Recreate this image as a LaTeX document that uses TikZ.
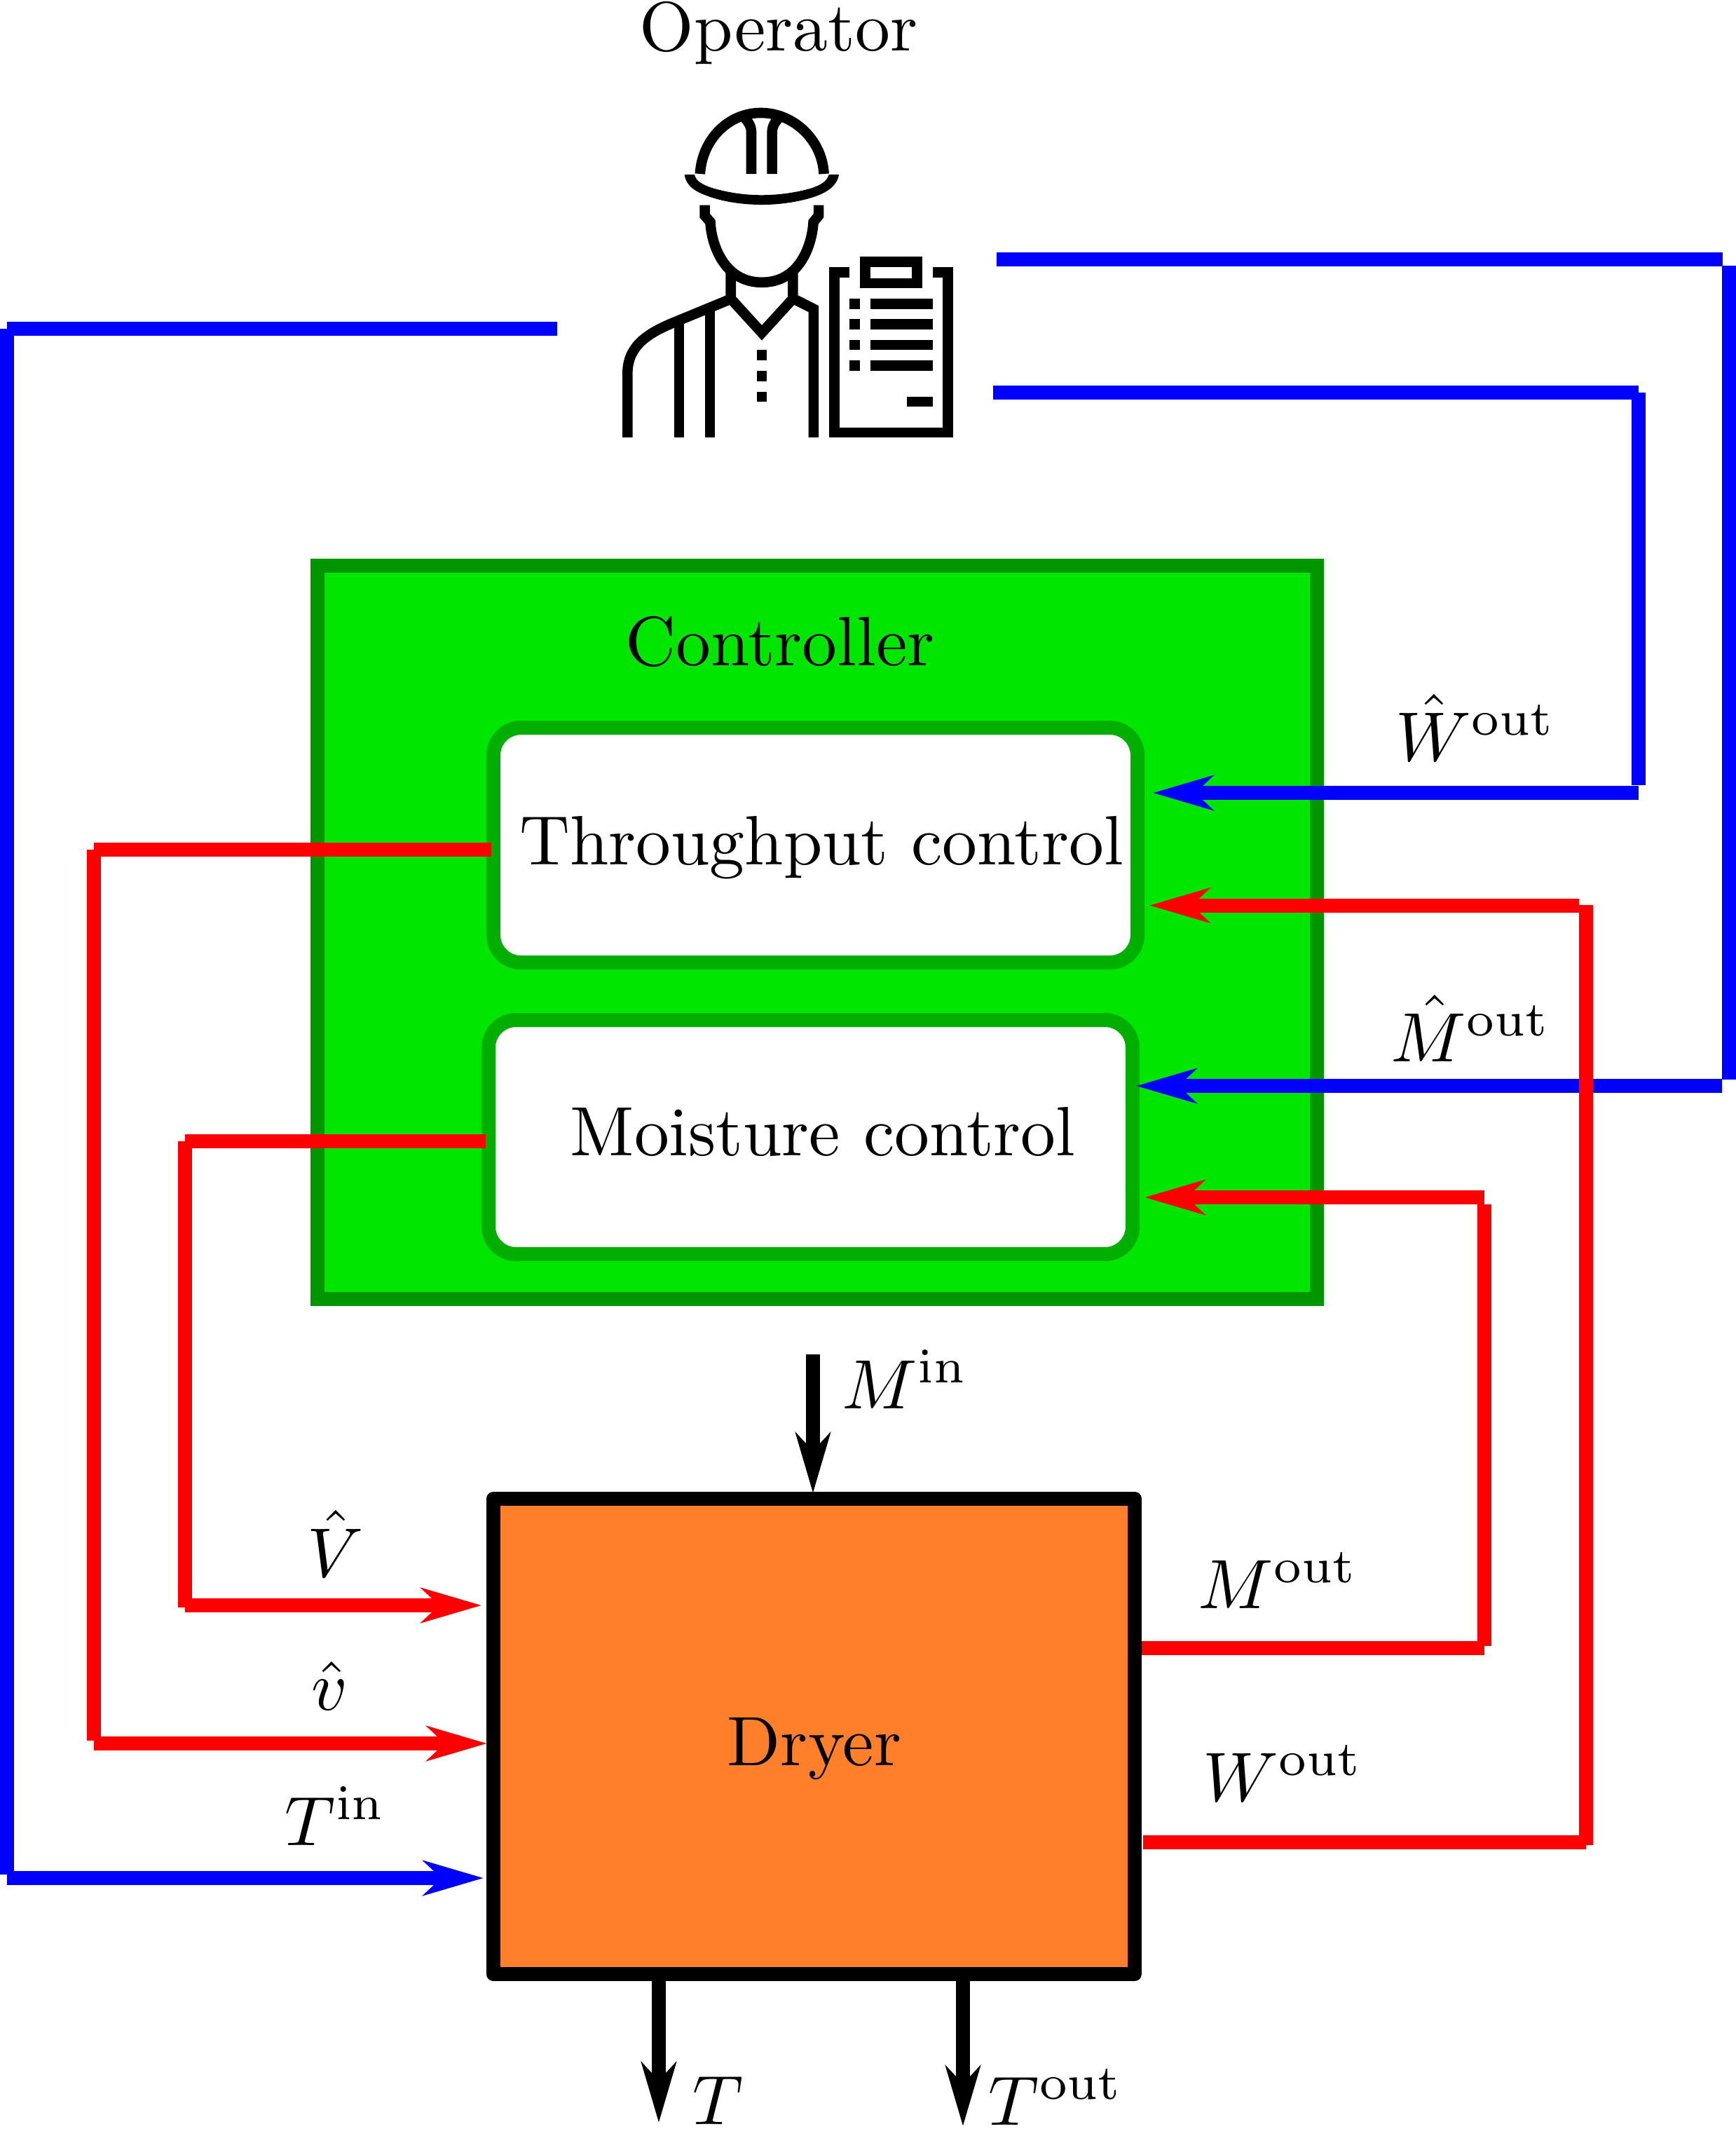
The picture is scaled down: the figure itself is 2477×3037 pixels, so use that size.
\documentclass[tikz,border=0pt]{standalone}
\usetikzlibrary{arrows.meta}
\definecolor{CtrlFill}{HTML}{00E600}
\definecolor{CtrlEdge}{HTML}{009600}
\definecolor{LoopEdge}{HTML}{00AF00}
\definecolor{DryerFill}{HTML}{FF7F2A}
\definecolor{WireBlue}{HTML}{0000FF}
\definecolor{WireRed}{HTML}{FF0000}
\tikzset{
  wire/.style={line width=2.03pt},
  wireblue/.style={wire,WireBlue},
  wirered/.style={wire,WireRed},
  flow/.style={wire,-{Stealth[length=8.7pt,width=5pt,inset=2.6pt]}},
  flowblue/.style={flow,WireBlue},
  flowred/.style={flow,WireRed},
  ctrlbox/.style={draw=CtrlEdge,line width=2.03pt,fill=CtrlFill,inner sep=0pt,
                  minimum width=144.6pt,minimum height=106.06pt},
  loopbox/.style={draw=LoopEdge,line width=2.03pt,fill=white,rounded corners=4pt,inner sep=0pt,
                  minimum width=93.19pt},
  dryerbox/.style={draw=black,line width=2.03pt,fill=DryerFill,line join=round,inner sep=0pt,
                   minimum width=92.78pt,minimum height=68.75pt},
  caption/.style={anchor=base,inner sep=0pt,transform shape,scale=1.01},
  sig/.style={anchor=base west,inner sep=0pt,transform shape,scale=1.01},
  icon/.style={line width=1.48pt},
}
\begin{document}
\begin{tikzpicture}[x=.1014pt,y=-.1014pt]
  \useasboundingbox (0,0) rectangle (2477,3037);

  \node[ctrlbox] (ctrl) at (1166,1330) {};
  \node[loopbox,minimum height=33.97pt] (tctrl) at (1163.5,1205.5) {};
  \node[loopbox,minimum height=33.87pt] (mctrl) at (1156.5,1622) {};
  \node[dryerbox] (dryer) at (1161.5,2477) {};

  \node[caption] (oplab) at (1111,72) {Operator};
  \node[caption] (ctrllab) at (1113,949) {Controller};
  \node[caption] (tlab) at (1172,1233) {Throughput control};
  \node[caption] (mlab) at (1174,1648) {Moisture control};
  \node[caption] (dlab) at (1162,2518) {Dryer};

  % operator
  \begin{scope}[shift={(850,120)},xscale=.357,yscale=.344]
    \draw[icon] (417,372) .. controls (425,230) and (530,119) .. (660,119)
      .. controls (790,119) and (905,230) .. (912,372);
    \draw[icon] (622,372) -- (622,200) .. controls (622,170) and (605,150) .. (590,135);
    \draw[icon] (705,372) -- (705,200) .. controls (705,170) and (722,150) .. (737,135);
    \fill (355,375) -- (395,375) .. controls (400,400) and (420,415) .. (470,432)
      .. controls (540,452) and (600,460) .. (664,460)
      .. controls (730,460) and (800,450) .. (860,432)
      .. controls (905,417) and (925,400) .. (932,375) -- (972,375)
      .. controls (965,420) and (930,445) .. (880,465)
      .. controls (810,490) and (730,500) .. (664,500)
      .. controls (590,500) and (510,488) .. (450,465)
      .. controls (395,445) and (360,420) .. (355,375) -- cycle;
    \draw[icon] (436,502) -- (436,545) -- (458,572) .. controls (462,660) and (510,822) .. (664,822)
      .. controls (820,822) and (865,660) .. (870,572) -- (891,545) -- (891,502);
    \draw[icon] (540,770) -- (540,890) -- (664,1031) -- (788,890) -- (788,770);
    \draw[icon] (800,895) -- (871,932) -- (871,1465);
    \draw[icon] (535,893) -- (320,985) .. controls (200,1035) and (127,1090) .. (127,1200) -- (127,1465);
    \draw[icon] (333,975) -- (333,1465);
    \draw[icon] (457,930) -- (457,1465);
    \foreach \y in {1103,1189,1275}
      \fill (644,\y) rectangle (684,\y+42);
    \draw[icon] (1014,781) -- (953,781) -- (953,1445) -- (1408,1445) -- (1408,781) -- (1347,781);
    \draw[icon] (1077,737) rectangle (1285,825);
    \foreach \y in {890,975,1060,1146} {
      \fill (1015,\y) rectangle (1056,\y+42);
      \fill (1098,\y) rectangle (1346,\y+42);
    }
    \fill (1243,1296) rectangle (1346,1338);
  \end{scope}

  % bends and free ends
  \coordinate (ma) at (1422,370);
  \coordinate (mb) at (2458,370);
  \coordinate (mc) at (2467,379);
  \coordinate (md) at (2467,1540);
  \coordinate (me) at (2457,1549);
  \coordinate (wa) at (1417,560);
  \coordinate (wb) at (2338,560);
  \coordinate (wc) at (2338,1120);
  \coordinate (wd) at (2338,1131);
  \coordinate (ta) at (795,469);
  \coordinate (tb) at (10,469);
  \coordinate (tc) at (10,2674);
  \coordinate (td) at (10,2679);
  \coordinate (va) at (134,1212);
  \coordinate (vb) at (134,2483);
  \coordinate (vc) at (134,2487);
  \coordinate (ua) at (264,1627.5);
  \coordinate (ub) at (264,2293);
  \coordinate (uc) at (264,2290);
  \coordinate (xa) at (2118,2350.5);
  \coordinate (xb) at (2118,2348);
  \coordinate (xc) at (2118,1718);
  \coordinate (xd) at (2118,1708);
  \coordinate (ya) at (2263,2628);
  \coordinate (yb) at (2263,2632);
  \coordinate (yc) at (2263,1291);
  \coordinate (yd) at (2253,1291.5);
  \coordinate (mi) at (1160,1932);
  \coordinate (tt) at (940,3028);
  \coordinate (to) at (1374,3033);

  % blue loops
  \draw[wireblue] (ma) -- (mb);
  \draw[wireblue] (mc) -- (md);
  \draw[flowblue,shorten >=-.5pt] (me) -- (mctrl.east |- me);
  \draw[wireblue] (wa) -- (wb);
  \draw[wireblue] (wb) -- (wc);
  \draw[flowblue,shorten >=1.2pt] (wd) -- (tctrl.east |- wd);
  \draw[wireblue] (ta) -- (tb);
  \draw[wireblue] (tb) -- (tc);
  \draw[flowblue,shorten >=.4pt] (td) -- (dryer.west |- td);

  % red loops
  \draw[wirered,shorten <=-.7pt] (tctrl.west |- va) -- (va);
  \draw[wirered] (va) -- (vb);
  \draw[flowred,shorten >=-.1pt] (vc) -- (dryer.west |- vc);
  \draw[wirered,shorten <=-.6pt] (mctrl.west |- ua) -- (ua);
  \draw[wirered] (ua) -- (ub);
  \draw[flowred,shorten >=.7pt] (uc) -- (dryer.west |- uc);
  \draw[wirered] (dryer.east |- xa) -- (xa);
  \draw[wirered] (xb) -- (xc);
  \draw[flowred,shorten >=.7pt] (xd) -- (mctrl.east |- xd);
  \draw[wirered,shorten <=.2pt] (dryer.east |- ya) -- (ya);
  \draw[wirered] (yb) -- (yc);
  \draw[flowred,shorten >=.7pt] (yd) -- (tctrl.east |- yd);

  % plant inputs and outputs
  \draw[flow,shorten >=-.2pt] (mi) -- (mi |- dryer.north);
  \draw[flow] (tt |- dryer.south) -- (tt);
  \draw[flow] (to |- dryer.south) -- (to);

  \node[sig] (whlab) at (1990,1085) {$\hat{W}^{\mathrm{out}}$};
  \node[sig] (mhlab) at (1983,1514) {$\hat{M}^{\mathrm{out}}$};
  \node[sig] (milab) at (1200,2009) {$M^{\mathrm{in}}$};
  \node[sig] (vhlab) at (437,2249) {$\hat{V}$};
  \node[sig] (uhlab) at (443,2439) {$\hat{v}$};
  \node[sig] (tilab) at (405,2632) {$T^{\mathrm{in}}$};
  \node[sig] (molab) at (1708,2294) {$M^{\mathrm{out}}$};
  \node[sig] (wolab) at (1715,2569) {$W^{\mathrm{out}}$};
  \node[sig] (ttlab) at (987,3030) {$T$};
  \node[sig] (tolab) at (1409,3031) {$T^{\mathrm{out}}$};
\end{tikzpicture}
\end{document}
